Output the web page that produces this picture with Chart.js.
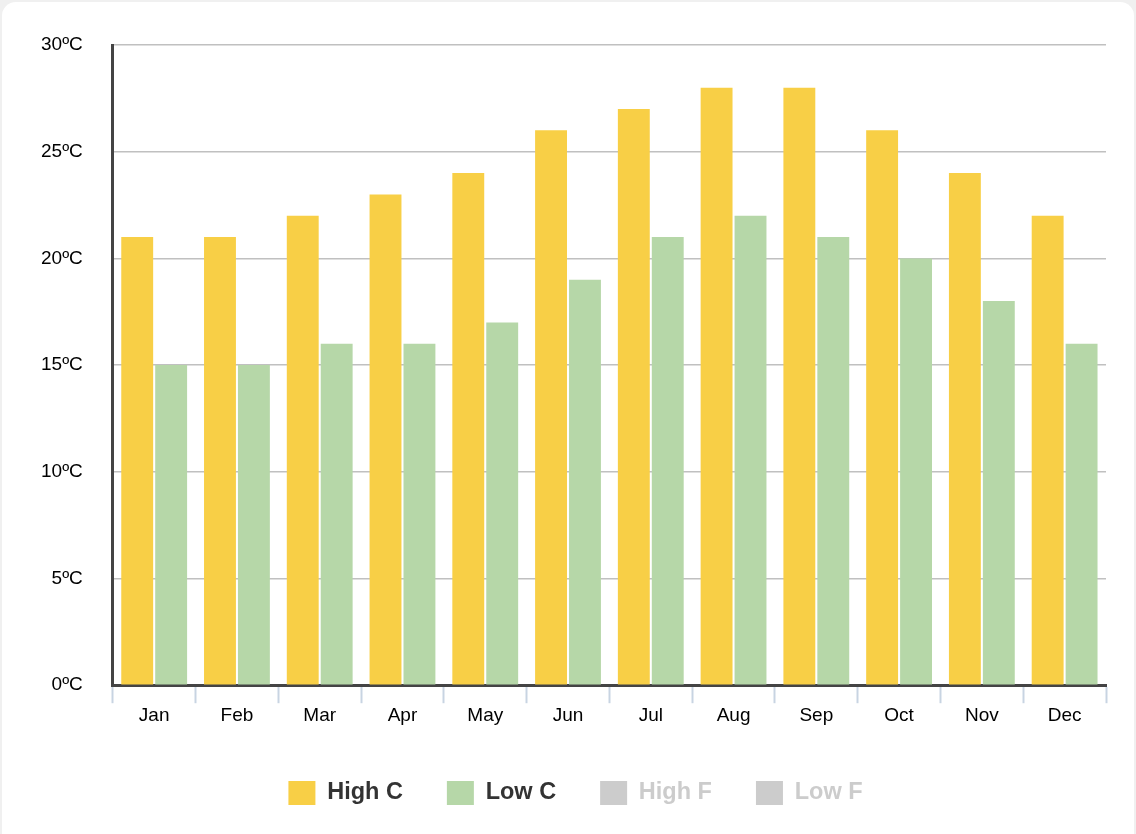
<!DOCTYPE html>
<html>
<head>
<meta charset="utf-8">
<script src="https://cdn.jsdelivr.net/npm/chart.js@4/dist/chart.umd.min.js"></script>
<style>
  html, body { margin: 0; padding: 0; background: #f0f0f0; }
  .card {
    position: absolute; left: 2px; top: 2px; width: 1132px; height: 860px;
    background: #fff; border-radius: 14px;
  }
  .wrap { position: absolute; left: 0; top: 0; width: 1132px; height: 832px; }
</style>
</head>
<body>
<div class="card"><div class="wrap"><canvas id="tempChart"></canvas></div></div>
<script>
// Monthly temperatures
const months = ['Jan', 'Feb', 'Mar', 'Apr', 'May', 'Jun', 'Jul', 'Aug', 'Sep', 'Oct', 'Nov', 'Dec'];
const highC = [21, 21, 22, 23, 24, 26, 27, 28, 28, 26, 24, 22];
const lowC = [15, 15, 16, 16, 17, 19, 21, 22, 21, 20, 18, 16];
const highF = [70, 70, 72, 73, 75, 79, 81, 82, 82, 79, 75, 72];
const lowF = [59, 59, 61, 61, 63, 66, 70, 72, 70, 68, 64, 61];

// nudge the legend a bit right, like the original
const legendShift = {
    id: 'legendShift',
    afterLayout: function(chart) {
        chart.legend.left += 17;
        chart.legend.right += 17;
    }
};

const ctx = document.getElementById('tempChart').getContext('2d');
const tempChart = new Chart(ctx, {
    type: 'bar',
    data: {
        labels: months,
        datasets: [
            { label: 'High C', data: highC, backgroundColor: '#f8cf46' },
            { label: 'Low C', data: lowC, backgroundColor: '#b6d7a8' },
            { label: 'High F', data: highF, backgroundColor: '#e69138', hidden: true },
            { label: 'Low F', data: lowF, backgroundColor: '#6fa8dc', hidden: true }
        ]
    },
    options: {
        responsive: true,
        maintainAspectRatio: false,
        animation: false,
        datasets: {
            bar: { barPercentage: 0.94, categoryPercentage: 0.82 }
        },
        layout: { padding: { left: 9, right: 28, top: 43, bottom: 19 } },
        scales: {
            x: {
                grid: {
                    drawOnChartArea: false,
                    drawTicks: true,
                    tickLength: 18,
                    tickColor: '#c8d4e2',
                    tickWidth: 2
                },
                border: { color: '#444', width: 3 },
                ticks: {
                    color: '#000',
                    padding: 1,
                    font: { family: 'Liberation Sans, Arial', size: 19 }
                },
                // extra room between month labels and legend
                afterFit: function(scale) {
                    scale.height += 9;
                }
            },
            y: {
                min: 0,
                max: 30,
                grid: {
                    color: '#c0c0c0',
                    lineWidth: 1.5,
                    drawTicks: false
                },
                border: { color: '#444', width: 3 },
                ticks: {
                    stepSize: 5,
                    color: '#000',
                    padding: 30,
                    font: { family: 'Liberation Sans, Arial', size: 19 },
                    callback: function(value) {
                        return value + 'ºC';
                    }
                }
            }
        },
        plugins: {
            tooltip: { enabled: false },
            legend: {
                position: 'bottom',
                labels: {
                    boxWidth: 27,
                    boxHeight: 24,
                    padding: 44,
                    font: { family: 'Liberation Sans, Arial', size: 23.5, weight: 'bold' },
                    generateLabels: function(chart) {
                        return chart.data.datasets.map(function(ds, i) {
                            const shown = chart.isDatasetVisible(i);
                            return {
                                text: ds.label,
                                fillStyle: shown ? ds.backgroundColor : '#cccccc',
                                strokeStyle: 'transparent',
                                lineWidth: 0,
                                fontColor: shown ? '#333' : '#cccccc',
                                hidden: false,
                                datasetIndex: i
                            };
                        });
                    }
                }
            }
        }
    },
    plugins: [legendShift]
});
</script>
</body>
</html>
